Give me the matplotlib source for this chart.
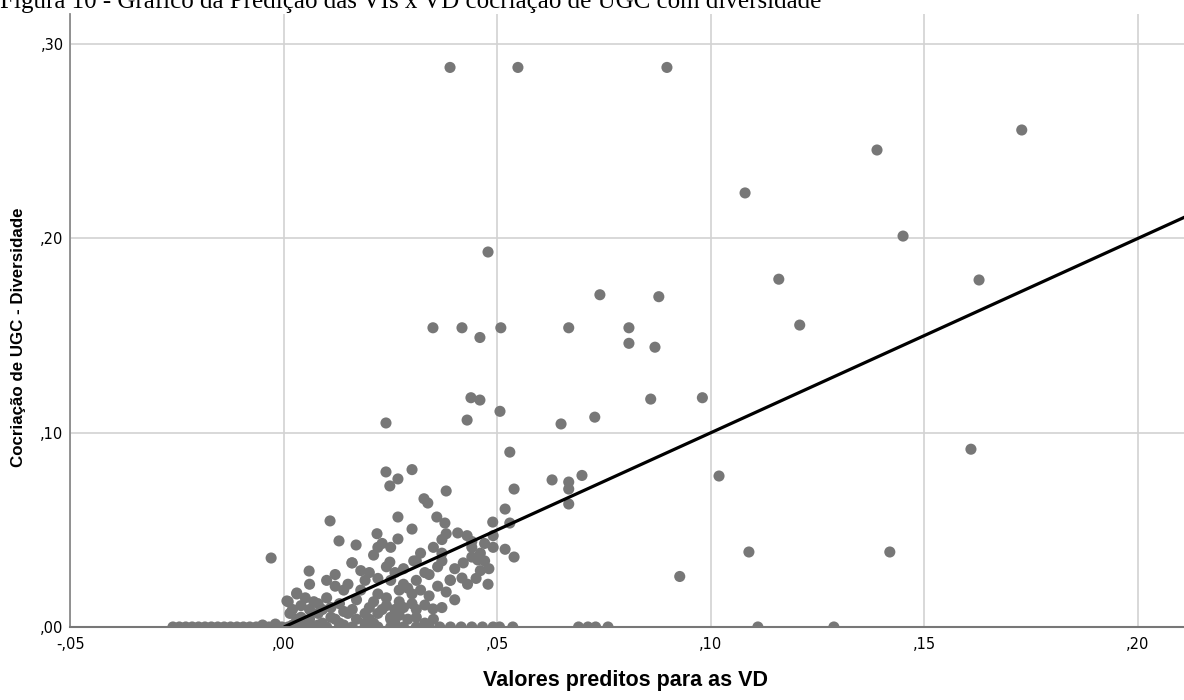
import matplotlib
matplotlib.use("Agg")
from matplotlib import pyplot as plt
from matplotlib.ticker import FuncFormatter
import numpy as np

# valores observados iguais a zero (linha da base)
pred_zero = [-0.026, -0.0245, -0.023, -0.0215, -0.020, -0.0185, -0.017, -0.0155,
             -0.014, -0.0125, -0.011, -0.0095, -0.008, -0.0065, -0.005, -0.0035,
             -0.002, -0.0005, 0.001, 0.004, 0.007, 0.010, 0.013, 0.016, 0.019,
             0.022, 0.025, 0.028, 0.031, 0.034, 0.0365, 0.039, 0.0415, 0.044,
             0.0465, 0.049, 0.0505, 0.0536, 0.069, 0.0712, 0.073, 0.0759,
             0.111, 0.1288]

# pontos dispersos (previsto, observado)
pred_out = [0.0389, 0.0548, 0.0897, 0.0478, 0.074, 0.0878, 0.0349, 0.0417,
            0.0459, 0.0508, 0.0667, 0.0808, 0.0808, 0.0869, 0.108, 0.1389,
            0.1728, 0.145, 0.1159, 0.1628, 0.1208, 0.098, 0.1019, 0.1609,
            0.1089, 0.1419, 0.0859, 0.0649, 0.0728, 0.0506, 0.0529, 0.0539,
            0.0628, 0.0667, 0.0667, 0.0698, 0.0667, 0.0518, 0.0529, 0.0518,
            0.0539, 0.0927, 0.0239, 0.0438, 0.0459, 0.0429]
obs_out = [0.288, 0.288, 0.288, 0.193, 0.171, 0.170, 0.154, 0.154,
           0.149, 0.154, 0.154, 0.154, 0.146, 0.144, 0.2234, 0.2455,
           0.2558, 0.2012, 0.179, 0.1786, 0.1554, 0.118, 0.0777, 0.0915,
           0.0386, 0.0386, 0.1173, 0.1045, 0.108, 0.111, 0.090, 0.071,
           0.0757, 0.0746, 0.071, 0.078, 0.0633, 0.0607, 0.0535, 0.040,
           0.036, 0.026, 0.105, 0.118, 0.1168, 0.1065]

# nuvem densa perto da origem
pred_cluster = [0.0239, 0.0267, 0.0248, 0.030, 0.038, 0.0328, 0.0337, 0.0108,
                0.0267, 0.0358, 0.0377, 0.030, 0.0129, 0.0169, 0.0218, 0.0267,
                0.0489, 0.0407, 0.0429, -0.003, 0.0059, 0.0159, 0.0248, 0.0304,
                0.0389, 0.0417, 0.0478, 0.0454, 0.033, 0.0349, 0.0007, 0.003,
                0.0014, 0.001, 0.003, 0.005, 0.007, 0.006, 0.010, 0.012, 0.012,
                0.015, 0.016, 0.018, 0.020, 0.022, 0.022, 0.025, 0.026, 0.027,
                0.028, 0.030, 0.031, 0.031, 0.033, 0.034, 0.036, 0.037, 0.039,
                0.037, 0.035, 0.037, 0.038, 0.044, 0.046, 0.047, 0.046, 0.044,
                0.047, 0.049, 0.002, 0.004, 0.006, 0.008, 0.009, 0.011, 0.012,
                0.015, 0.016, 0.019, 0.020, 0.022, 0.023, 0.025, 0.026, 0.028,
                0.030, 0.031, 0.025, 0.019, 0.014, 0.008, 0.002, 0.005, 0.022,
                0.023, 0.025, 0.021, -0.005, -0.002,
                0.010, 0.013, 0.017, 0.018, 0.021, 0.024, 0.027, 0.029, 0.032,
                0.034, 0.036, 0.038, 0.040, 0.042, 0.043, 0.040, 0.037, 0.035,
                0.033, 0.029, 0.027, 0.024, 0.020, 0.017, 0.014, 0.011, 0.008,
                0.006, 0.004, 0.003, 0.009, 0.013, 0.021, 0.026, 0.031, 0.028,
                0.024, 0.019, 0.014, 0.032, 0.045, 0.048, 0.049, 0.044]
obs_cluster = [0.0798, 0.0762, 0.0726, 0.081, 0.070, 0.066, 0.0638, 0.0546,
               0.0566, 0.0566, 0.0535, 0.0504, 0.0443, 0.0422, 0.048, 0.0453,
               0.054, 0.0484, 0.047, 0.0355, 0.0288, 0.033, 0.0334, 0.034,
               0.0242, 0.0252, 0.022, 0.0345, 0.0113, 0.0093, 0.0134, 0.0175,
               0.007, 0.013, 0.017, 0.015, 0.013, 0.022, 0.024, 0.027, 0.021,
               0.022, 0.033, 0.029, 0.028, 0.025, 0.017, 0.024, 0.028, 0.019,
               0.022, 0.017, 0.024, 0.034, 0.028, 0.027, 0.031, 0.034, 0.024,
               0.038, 0.041, 0.045, 0.048, 0.041, 0.038, 0.034, 0.029, 0.036,
               0.043, 0.041, 0.009, 0.005, 0.004, 0.007, 0.009, 0.005, 0.004,
               0.007, 0.009, 0.007, 0.010, 0.007, 0.009, 0.005, 0.009, 0.010,
               0.012, 0.009, 0.004, 0.002, 0.001, 0.001, 0.001, 0.002, 0.041,
               0.043, 0.041, 0.037, 0.001, 0.0015,
               0.015, 0.012, 0.014, 0.019, 0.013, 0.015, 0.013, 0.020, 0.019,
               0.016, 0.021, 0.018, 0.030, 0.033, 0.022, 0.014, 0.010, 0.004,
               0.002, 0.004, 0.006, 0.011, 0.004, 0.004, 0.008, 0.010, 0.012,
               0.009, 0.011, 0.004, 0.002, 0.002, 0.002, 0.002, 0.005, 0.030,
               0.031, 0.024, 0.019, 0.038, 0.025, 0.030, 0.047, 0.044]

# reta de ajuste: intercepto e inclinação
fit_intercept = 0.0
fit_slope = 1.0

x_ticks = [-0.05, 0.00, 0.05, 0.10, 0.15, 0.20]
y_ticks = [0.00, 0.10, 0.20, 0.30]


def fmt(v, pos=None):
    s = f"{v:.2f}"
    return s.replace("0.", ",", 1)


x_all = np.concatenate([pred_zero, pred_out, pred_cluster])
y_all = np.concatenate([np.zeros(len(pred_zero)), obs_out, obs_cluster])

fig = plt.figure(figsize=(11.84, 7.0), dpi=100)
ax = fig.add_axes([0.0595, 0.1043, 0.9405, 0.8757])

ax.grid(True, color="#d2d2d2", linewidth=1.2, zorder=0)
ax.set_axisbelow(True)

ax.scatter(x_all, y_all, s=64, color="#777777", edgecolors="none", zorder=3)

fit_x = np.array([0.0, 0.3])
ax.plot(fit_x, fit_intercept + fit_slope * fit_x, color="black", linewidth=2.3,
        zorder=4, solid_capstyle="butt")

ax.set_xlim(-0.05, 0.2108)
ax.set_ylim(0.0, 0.3155)
ax.set_xticks(x_ticks)
ax.set_yticks(y_ticks)
ax.xaxis.set_major_formatter(FuncFormatter(fmt))
ax.yaxis.set_major_formatter(FuncFormatter(fmt))
ax.tick_params(axis="both", length=0, labelsize=10.5, colors="black")
ax.tick_params(axis="x", pad=7)
ax.tick_params(axis="y", pad=5)

for side in ["top", "right"]:
    ax.spines[side].set_visible(False)
ax.spines["left"].set_color("#8a8a8a")
ax.spines["left"].set_linewidth(1.3)
ax.spines["bottom"].set_color("#777777")
ax.spines["bottom"].set_linewidth(1.5)
ax.spines["left"].set_zorder(5)
ax.spines["bottom"].set_zorder(5)

fig.text(0.528, 0.028, "Valores preditos para as VD", ha="center", va="center",
         fontsize=15.5, fontweight="bold", family="Liberation Sans")
fig.text(0.0155, 0.518, "Cocriação de UGC - Diversidade", ha="center",
         va="center", rotation=90, fontsize=12.2, fontweight="bold",
         family="Liberation Sans")

# legenda da figura cortada no topo, como na página original
fig.text(0.0, 0.989, "Figura 10 - Gráfico da Predição das VIs x VD cocriação de UGC com diversidade",
         ha="left", va="baseline", fontsize=18, family="Liberation Serif")

fig.savefig("out.png", dpi=100)
